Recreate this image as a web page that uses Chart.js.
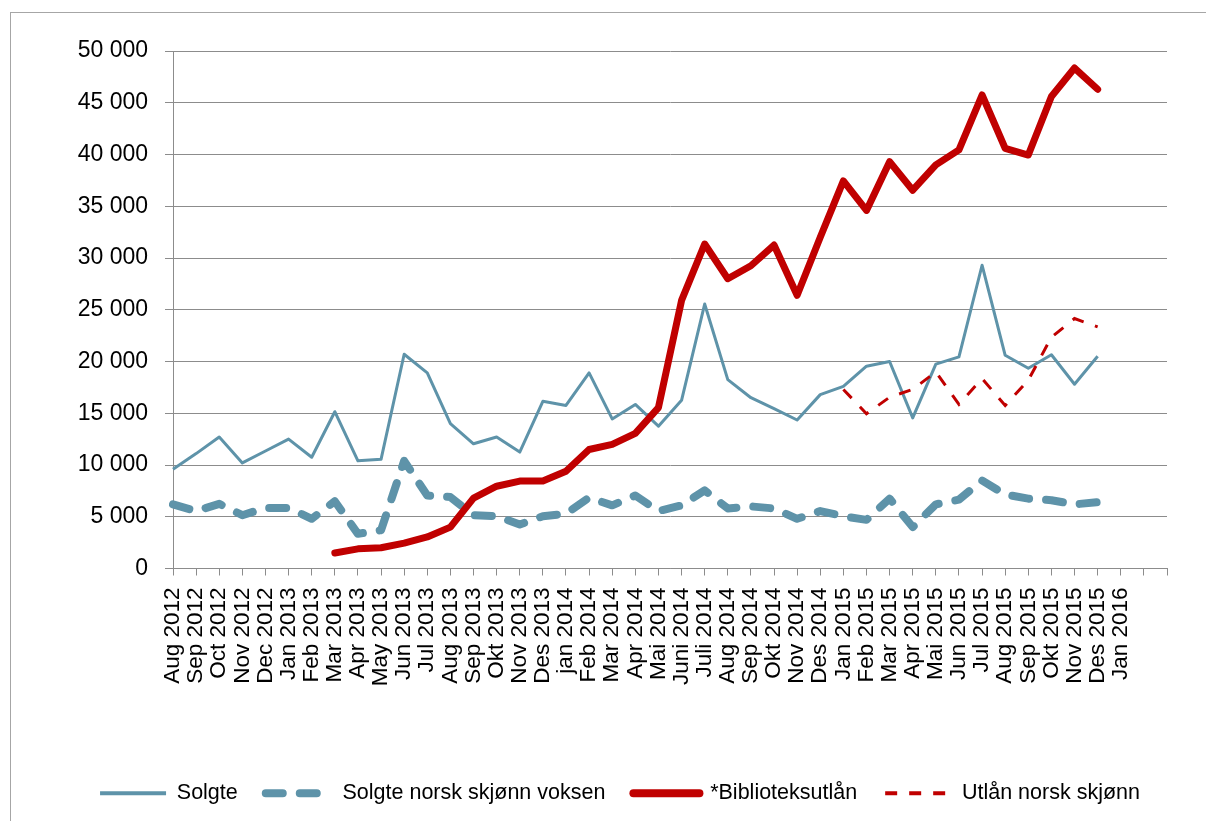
<!DOCTYPE html>
<html><head><meta charset="utf-8">
<script src="https://cdn.jsdelivr.net/npm/chart.js@4"></script>
<style>html,body{margin:0;padding:0;background:#fff}#wrap{width:1206px;height:821px;position:relative}</style>
</head><body><div id="wrap"><canvas id="c" width="1206" height="821"></canvas></div>
<script>
const categories = ["Aug 2012","Sep 2012","Oct 2012","Nov 2012","Dec 2012","Jan 2013","Feb 2013","Mar 2013","Apr 2013","May 2013","Jun 2013","Jul 2013","Aug 2013","Sep 2013","Okt 2013","Nov 2013","Des 2013","jan 2014","Feb 2014","Mar 2014","Apr 2014","Mai 2014","Juni 2014","Juli 2014","Aug 2014","Sep 2014","Okt 2014","Nov 2014","Des 2014","Jan 2015","Feb 2015","Mar 2015","Apr 2015","Mai 2015","Jun 2015","Jul 2015","Aug 2015","Sep 2015","Okt 2015","Nov 2015","Des 2015","Jan 2016","",""];
const solgte = [9600,11100,12700,10200,11350,12500,10750,15150,10400,10550,20700,18900,14000,12050,12700,11250,16150,15750,18900,14450,15850,13750,16250,25550,18250,16500,15450,14350,16800,17600,19550,20000,14550,19750,20450,29300,20600,19350,20650,17800,20500,null,null,null];
const solgteNorskVoksen = [6200,5550,6250,5150,5850,5850,4800,6500,3350,3700,10400,7050,6900,5150,5050,4250,5050,5300,6850,6100,7050,5550,6100,7550,5800,6000,5800,4800,5550,5050,4700,6750,4000,6200,6650,8500,7150,6750,6600,6200,6400,null,null,null];
const biblioteksutlan = [null,null,null,null,null,null,null,1500,1900,2000,2450,3050,4000,6800,7950,8450,8450,9400,11500,12000,13050,15550,25900,31350,28000,29250,31250,26400,32000,37450,34600,39300,36550,39000,40450,45750,40600,39950,45600,48350,46300,null,null,null];
const utlanNorskSkjonn = [null,null,null,null,null,null,null,null,null,null,null,null,null,null,null,null,null,null,null,null,null,null,null,null,null,null,null,null,null,17300,14950,16550,17300,19000,15850,18350,15750,18200,22350,24150,23350,null,null,null];
const seriesNames = ["Solgte","Solgte norsk skjønn voksen","*Biblioteksutlån","Utlån norsk skjønn"];
const yTicks = [0,5000,10000,15000,20000,25000,30000,35000,40000,45000,50000];

const BLUE = '#5e93a9';
const RED = '#c00000';
const GRID = '#8c8c8c';
const FONT = "'Liberation Sans', Arial, sans-serif";
const legendWidths = [4, 8, 8, 4];

const framePlugin = {
  id: 'frame',
  beforeDraw(chart) {
    const ctx = chart.ctx;
    ctx.save();
    ctx.fillStyle = '#fff';
    ctx.fillRect(0, 0, chart.width, chart.height);
    ctx.strokeStyle = '#a6a6a6';
    ctx.lineWidth = 1;
    ctx.strokeRect(10.5, 12.5, 1400, 1000);
    ctx.restore();
  }
};

function fmt(v) {
  return String(v).replace(/\B(?=(\d{3})+(?!\d))/g, ' ');
}

new Chart(document.getElementById('c'), {
  type: 'line',
  data: {
    labels: categories,
    datasets: [
      { label: seriesNames[0], data: solgte, borderColor: BLUE, backgroundColor: BLUE, borderWidth: 3, order: 3, borderJoinStyle: 'round' },
      { label: seriesNames[1], data: solgteNorskVoksen, borderColor: BLUE, backgroundColor: BLUE, borderWidth: 8, borderDash: [17, 17], borderCapStyle: 'round', borderJoinStyle: 'round', order: 2 },
      { label: seriesNames[2], data: biblioteksutlan, borderColor: RED, backgroundColor: RED, borderWidth: 7, borderJoinStyle: 'round', borderCapStyle: 'round', order: 1 },
      { label: seriesNames[3], data: utlanNorskSkjonn, borderColor: RED, backgroundColor: RED, borderWidth: 3, borderDash: [12, 12], borderCapStyle: 'butt', order: 0 }
    ]
  },
  options: {
    responsive: false,
    animation: false,
    devicePixelRatio: 1,
    elements: { point: { radius: 0, hoverRadius: 0 }, line: { tension: 0 } },
    spanGaps: false,
    layout: { padding: { top: 51, left: 34, right: 0, bottom: 7 } },
    plugins: {
      tooltip: { enabled: false },
      legend: {
        position: 'bottom',
        labels: {
          usePointStyle: true,
          pointStyleWidth: 66,
          padding: 28,
          color: '#000',
          font: { family: FONT, size: 21.5 },
          generateLabels(chart) {
            return chart.data.datasets.map((ds, i) => ({
              text: ds.label,
              strokeStyle: ds.borderColor,
              fillStyle: ds.borderColor,
              lineWidth: legendWidths[i],
              lineDash: ds.borderDash || [],
              lineCap: ds.borderCapStyle || 'butt',
              pointStyle: 'line',
              datasetIndex: i,
              hidden: false,
              fontColor: '#000'
            }));
          }
        }
      }
    },
    scales: {
      x: {
        type: 'category',
        offset: false,
        grid: { drawOnChartArea: false, drawTicks: true, tickLength: 7, color: GRID },
        border: { color: GRID },
        ticks: { autoSkip: false, maxRotation: 90, minRotation: 90, padding: 12, color: '#000', font: { family: FONT, size: 22.5 } },
        afterFit(s) { s.height = 186; }
      },
      y: {
        min: 0, max: 50000,
        afterBuildTicks(s) { s.ticks = yTicks.map(v => ({ value: v })); },
        grid: { color: GRID, tickLength: 8 },
        border: { color: GRID },
        ticks: { padding: 17, color: '#000', font: { family: FONT, size: 23 }, callback: v => fmt(v) },
        afterFit(s) { s.width = 139; }
      },
      yRight: {
        position: 'right',
        min: 0, max: 50000,
        grid: { display: false, drawOnChartArea: false, drawTicks: false },
        border: { display: false },
        ticks: { display: false },
        afterFit(s) { s.width = 38; }
      }
    }
  },
  plugins: [framePlugin]
});
</script>
</body></html>
